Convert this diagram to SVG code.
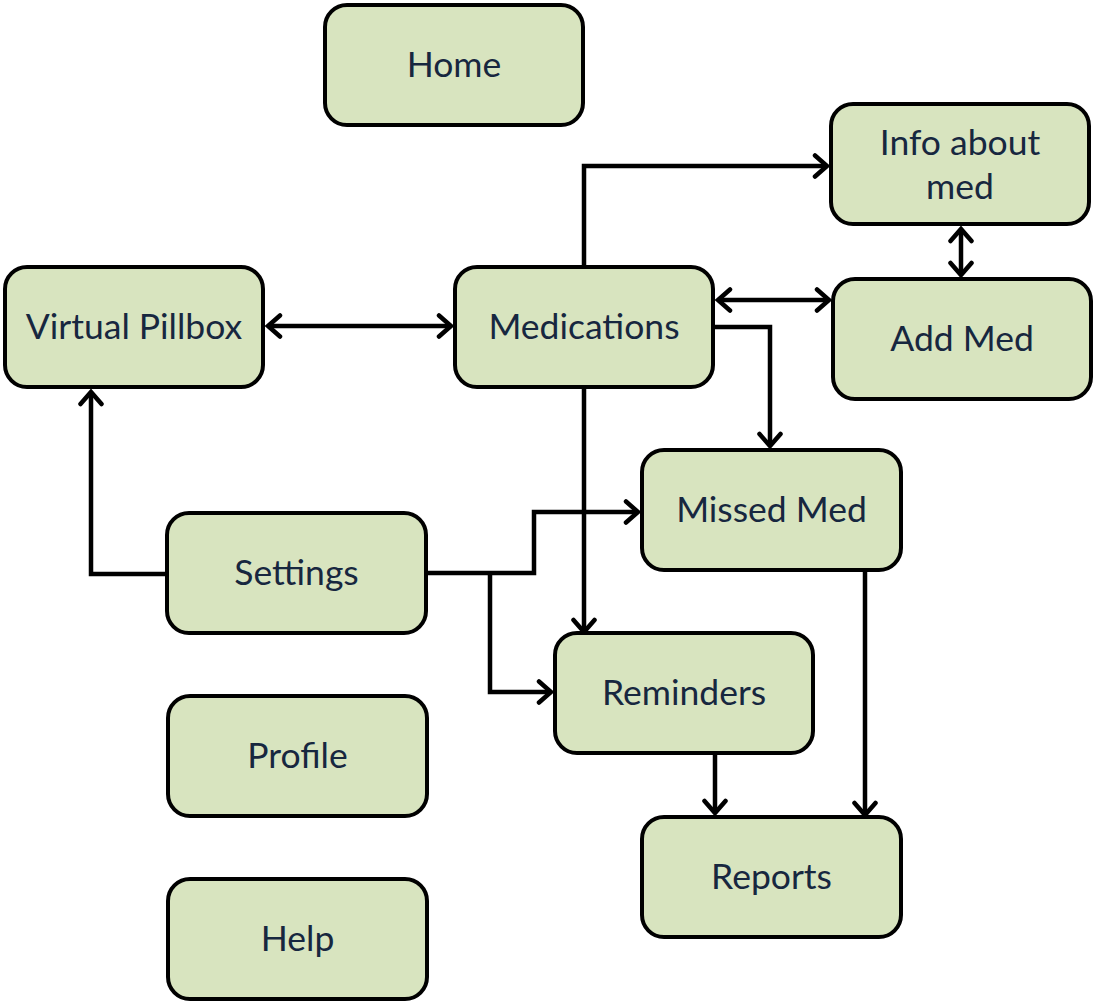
<svg xmlns="http://www.w3.org/2000/svg" width="1095" height="1004" viewBox="0 0 1095 1004">
<defs>
<style>
.node rect{fill:#d8e4bf;stroke:#000;stroke-width:4}
.node text{font-family:Lato,"Liberation Sans",sans-serif;font-size:35.5px;fill:#17273f;text-anchor:middle}
.conn path{fill:none;stroke:#000;stroke-width:4.5}
</style>
<marker id="a" markerUnits="userSpaceOnUse" markerWidth="22" markerHeight="26" refX="15" refY="13" orient="auto-start-reverse" viewBox="0 0 22 26">
<path d="M3,2.5 L15,13 L3,23.5" fill="none" stroke="#000" stroke-width="4.5" stroke-linecap="round"/>
</marker>
</defs>
<rect width="1095" height="1004" fill="#fff"/>
<g id="connectors" class="conn">
<path d="M268,326 H451" marker-start="url(#a)" marker-end="url(#a)"/>
<path d="M584,265 V166 H827" marker-end="url(#a)"/>
<path d="M961,229 V275" marker-start="url(#a)" marker-end="url(#a)"/>
<path d="M718,300 H829" marker-start="url(#a)" marker-end="url(#a)"/>
<path d="M715,327 H770 V446" marker-end="url(#a)"/>
<path d="M584,389 V632" marker-end="url(#a)"/>
<path d="M428,573 H534 V512 H638" marker-end="url(#a)"/>
<path d="M490,573 V692 H551" marker-end="url(#a)"/>
<path d="M165,574 H91 V392" marker-end="url(#a)"/>
<path d="M715,755 V813" marker-end="url(#a)"/>
<path d="M865,572 V815" marker-end="url(#a)"/>
</g>
<g id="home" class="node"><rect x="325" y="5" width="258" height="120" rx="22"/><text x="454" y="77">Home</text></g>
<g id="info" class="node"><rect x="831" y="104" width="258" height="120" rx="22"/><text x="960" y="155">Info about</text><text x="960" y="199">med</text></g>
<g id="pillbox" class="node"><rect x="5" y="267" width="258" height="120" rx="22"/><text x="134" y="339">Virtual Pillbox</text></g>
<g id="medications" class="node"><rect x="455" y="267" width="258" height="120" rx="22"/><text x="584" y="339">Medications</text></g>
<g id="addmed" class="node"><rect x="833" y="279" width="258" height="120" rx="22"/><text x="962" y="351">Add Med</text></g>
<g id="missed" class="node"><rect x="642" y="450" width="259" height="120" rx="22"/><text x="771.5" y="522">Missed Med</text></g>
<g id="settings" class="node"><rect x="167" y="513" width="259" height="120" rx="22"/><text x="296.5" y="585">Settings</text></g>
<g id="reminders" class="node"><rect x="555" y="633" width="258" height="120" rx="22"/><text x="684" y="705">Reminders</text></g>
<g id="profile" class="node"><rect x="168" y="696" width="259" height="120" rx="22"/><text x="297.5" y="768">Profile</text></g>
<g id="reports" class="node"><rect x="642" y="817" width="259" height="120" rx="22"/><text x="771.5" y="889">Reports</text></g>
<g id="help" class="node"><rect x="168" y="879" width="259" height="120" rx="22"/><text x="297.5" y="951">Help</text></g>
</svg>
